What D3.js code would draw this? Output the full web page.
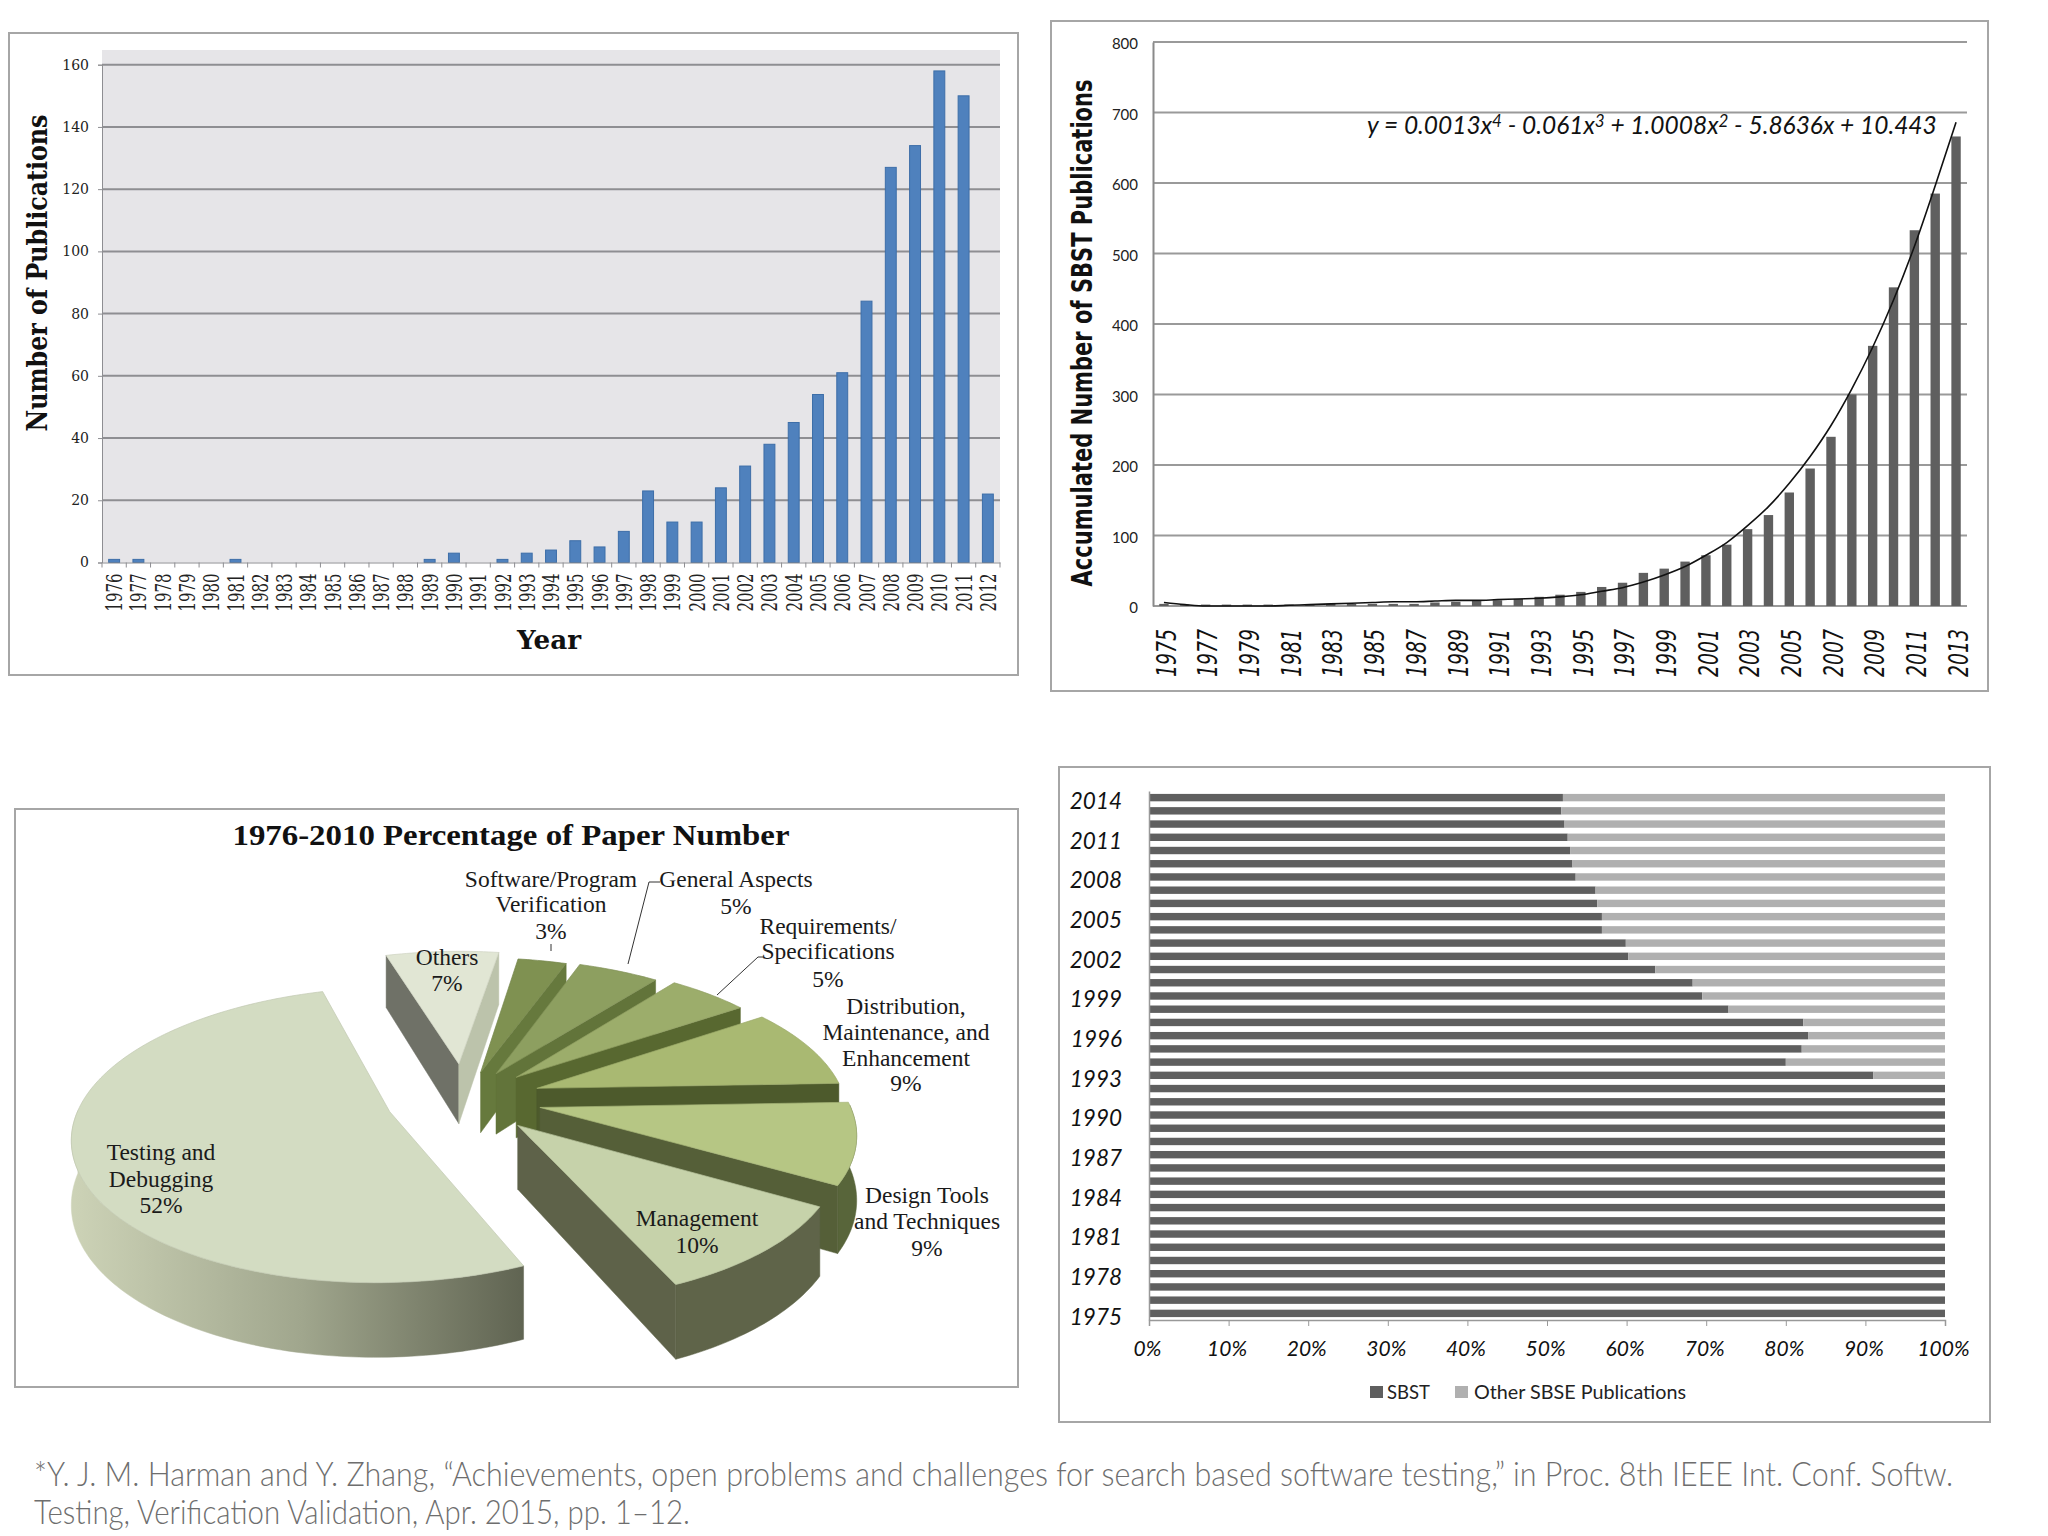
<!DOCTYPE html>
<html>
<head>
<meta charset="utf-8">
<script src="https://cdn.jsdelivr.net/npm/d3@7"></script>
<style>
  html, body { margin: 0; padding: 0; background: #fff; }
  svg { display: block; }
</style>
</head>
<body>
<div id="chart"></div>
<script>
// top left: publications per year
const pubYears = d3.range(1976, 2013).map(String);
const pubCounts = [1,1,0,0,0,1,0,0,0,0,0,0,0,1,3,0,1,3,4,7,5,10,23,13,13,24,31,38,45,54,61,84,127,134,158,150,22];
const pubTicks = [0,20,40,60,80,100,120,140,160];

// top right: accumulated SBST publications
const accYears = d3.range(1975, 2014).map(String);
const accCounts = [3,2,2,2,2,2,2,2,3,3,3,3,3,5,6,7,8,10,13,16,20,27,33,47,53,63,72,87,109,129,161,195,240,300,369,452,533,585,666];
const accTrend = [5,2,0,0,0,0,1,2,3,4,5,6,6,7,8,8,9,10,11,13,16,21,26,34,44,56,72,90,114,141,174,212,256,308,367,434,510,596,686];
const accTicks = [0,100,200,300,400,500,600,700,800];

// bottom left: paper share by topic, clockwise from Others
const pieValues = [7,3,5,5,9,9,10,52];

// bottom right: SBST share, 1975 first
const shareYears = d3.range(1975, 2015).map(String);
const shareSbst = [100,100,100,100,100,100,100,100,100,100,100,100,100,100,100,100,100,100,91,80,82,82.8,82.2,72.8,69.5,68.3,63.6,60.2,59.9,56.9,56.9,56.3,56.1,53.6,53.2,52.9,52.6,52.2,51.8,52];
const shareOther = [0,0,0,0,0,0,0,0,0,0,0,0,0,0,0,0,0,0,9,20,18,17.2,17.8,27.2,30.5,31.7,36.4,39.8,40.1,43.1,43.1,43.7,43.9,46.4,46.8,47.1,47.4,47.8,48.2,48];
const shareTicks = [0,10,20,30,40,50,60,70,80,90,100];

const footLines = [
  "*Y. J. M. Harman and Y. Zhang, \u201cAchievements, open problems and challenges for search based software testing,\u201d in Proc. 8th IEEE Int. Conf. Softw.",
  "Testing, Verification Validation, Apr. 2015, pp. 1\u201312."
];

const svg = d3.select("#chart").append("svg")
  .attr("width", 2048)
  .attr("height", 1536);

svg.append("rect").attr("width", 2048).attr("height", 1536).attr("fill", "#fff");

function frame(x, y, w, h) {
  svg.append("rect")
    .attr("x", x).attr("y", y).attr("width", w).attr("height", h)
    .attr("fill", "#fff")
    .attr("stroke", "#a6a6a6")
    .attr("stroke-width", 2);
}

frame(9, 33, 1009, 642);
frame(1051, 21, 937, 670);
frame(15, 809, 1003, 578);
frame(1059, 767, 931, 655);

// ---------- publications per year
{
  const left = 102, right = 1000, top = 64.7, bottom = 562.5;
  const g = svg.append("g");
  g.append("rect")
    .attr("x", left).attr("y", 50)
    .attr("width", right - left).attr("height", bottom - 50)
    .attr("fill", "#e6e5e8");

  const x = d3.scaleBand().domain(pubYears).range([left, right]).paddingInner(0.55).paddingOuter(0.275);
  const y = d3.scaleLinear().domain([0, 160]).range([bottom, top]);
  const step = x.step();

  g.selectAll("line.grid").data(pubTicks.slice(1)).enter().append("line")
    .attr("class", "grid")
    .attr("x1", left).attr("x2", right)
    .attr("y1", d => y(d)).attr("y2", d => y(d))
    .attr("stroke", "#8e8e92").attr("stroke-width", 2);

  g.selectAll("rect.bar").data(pubCounts).enter().append("rect")
    .attr("class", "bar")
    .attr("x", (d, i) => x(pubYears[i]))
    .attr("y", d => y(d))
    .attr("width", x.bandwidth())
    .attr("height", d => bottom - y(d))
    .attr("fill", "#4f81bd")
    .attr("stroke", "#3d6ea8")
    .attr("stroke-width", 1);

  const yAxis = g.append("g")
    .attr("transform", `translate(${left},0)`)
    .call(d3.axisLeft(y).tickValues(pubTicks).tickSize(4).tickPadding(9));
  yAxis.select(".domain").attr("stroke", "#8e8e92");
  yAxis.selectAll("line").attr("stroke", "#8e8e92");
  yAxis.selectAll("text")
    .attr("font-family", "DejaVu Serif").attr("font-size", 14).attr("fill", "#222");

  const xAxis = g.append("g")
    .attr("transform", `translate(0,${bottom})`)
    .call(d3.axisBottom(x).tickSize(0));
  xAxis.select(".domain").attr("stroke", "#8e8e92");
  xAxis.selectAll("text")
    .attr("font-family", "DejaVu Serif").attr("font-size", 23).attr("fill", "#222")
    .attr("text-anchor", "end")
    .attr("textLength", 38).attr("lengthAdjust", "spacingAndGlyphs")
    .attr("dy", "0.35em").attr("x", 0).attr("y", 0)
    .attr("transform", "translate(0,11) rotate(-90)");

  g.selectAll("line.sep").data(d3.range(pubYears.length + 1)).enter().append("line")
    .attr("class", "sep")
    .attr("x1", i => left + i * step).attr("x2", i => left + i * step)
    .attr("y1", bottom).attr("y2", bottom + 5)
    .attr("stroke", "#8e8e92");

  g.append("text")
    .attr("transform", "translate(47,273) rotate(-90)")
    .attr("text-anchor", "middle")
    .attr("font-family", "DejaVu Serif").attr("font-weight", 700).attr("font-size", 27)
    .attr("textLength", 317).attr("lengthAdjust", "spacingAndGlyphs")
    .attr("fill", "#111")
    .text("Number of Publications");

  g.append("text")
    .attr("x", 549).attr("y", 649)
    .attr("text-anchor", "middle")
    .attr("font-family", "DejaVu Serif").attr("font-weight", 700).attr("font-size", 26)
    .attr("textLength", 64).attr("lengthAdjust", "spacingAndGlyphs")
    .attr("fill", "#111")
    .text("Year");
}

// ---------- accumulated publications
{
  const left = 1153, right = 1967, top = 42, bottom = 606;
  const g = svg.append("g");
  const x = d3.scaleBand().domain(accYears).range([left, right]).paddingInner(0.55).paddingOuter(0.3);
  const y = d3.scaleLinear().domain([0, 800]).range([bottom, top]);

  g.selectAll("line.grid").data(accTicks).enter().append("line")
    .attr("class", "grid")
    .attr("x1", left).attr("x2", right)
    .attr("y1", d => y(d)).attr("y2", d => y(d))
    .attr("stroke", "#9a9a9a").attr("stroke-width", 2);

  g.selectAll("rect.bar").data(accCounts).enter().append("rect")
    .attr("class", "bar")
    .attr("x", (d, i) => x(accYears[i]))
    .attr("y", d => y(d))
    .attr("width", x.bandwidth())
    .attr("height", d => bottom - y(d))
    .attr("fill", "#5f5f5f");

  const trend = d3.line()
    .x((d, i) => x(accYears[i]) + x.bandwidth() / 2)
    .y(d => y(d))
    .curve(d3.curveMonotoneX);
  g.append("path").datum(accTrend)
    .attr("d", trend)
    .attr("fill", "none").attr("stroke", "#111").attr("stroke-width", 1.6);

  const yAxis = g.append("g")
    .attr("transform", `translate(${left},0)`)
    .call(d3.axisLeft(y).tickValues(accTicks).tickSize(0).tickPadding(15));
  yAxis.select(".domain").attr("stroke", "#8a8a8a").attr("stroke-width", 2);
  yAxis.selectAll("text")
    .attr("font-family", "Lato").attr("font-size", 15).attr("fill", "#222")
    .attr("dy", "0.45em");

  const xAxis = g.append("g")
    .attr("transform", `translate(0,${bottom})`)
    .call(d3.axisBottom(x).tickValues(accYears.filter((d, i) => i % 2 === 0)).tickSize(0));
  xAxis.select(".domain").remove();
  xAxis.selectAll("text")
    .attr("font-family", "DejaVu Sans").attr("font-style", "italic").attr("font-size", 27).attr("fill", "#111")
    .attr("text-anchor", "end")
    .attr("textLength", 48).attr("lengthAdjust", "spacingAndGlyphs")
    .attr("dy", "0.36em").attr("x", 0).attr("y", 0)
    .attr("transform", "translate(2,23) rotate(-90)");

  g.append("text")
    .attr("transform", "translate(1092,333) rotate(-90)")
    .attr("text-anchor", "middle")
    .attr("font-family", "DejaVu Sans").attr("font-weight", 700).attr("font-size", 28)
    .attr("textLength", 507).attr("lengthAdjust", "spacingAndGlyphs")
    .attr("fill", "#111")
    .text("Accumulated Number of SBST Publications");

  const eq = g.append("text")
    .attr("x", 1367).attr("y", 134)
    .attr("font-family", "Lato").attr("font-style", "italic").attr("font-size", 24.5)
    .attr("fill", "#111");
  const eqParts = [["y = 0.0013x",0],["4",1],[" - 0.061x",0],["3",1],[" + 1.0008x",0],["2",1],[" - 5.8636x + 10.443",0]];
  eqParts.forEach(p => {
    eq.append("tspan")
      .attr("font-size", p[1] ? 17 : 24.5)
      .attr("baseline-shift", p[1] ? "40%" : null)
      .text(p[0]);
  });
}

// ---------- exploded 3D pie
{
  const cx = 466, cy = 1099, R = 308, squash = 0.455, persp = 0.155, depth = 62;
  const g = svg.append("g");

  g.append("text")
    .attr("x", 511).attr("y", 845)
    .attr("text-anchor", "middle")
    .attr("font-family", "Liberation Serif").attr("font-weight", 700).attr("font-size", 29)
    .attr("textLength", 557).attr("lengthAdjust", "spacingAndGlyphs")
    .attr("fill", "#111")
    .text("1976-2010 Percentage of Paper Number");

  const grad = svg.append("defs").append("linearGradient")
    .attr("id", "testingWall")
    .attr("gradientUnits", "userSpaceOnUse")
    .attr("x1", 75).attr("x2", 530).attr("y1", 0).attr("y2", 0);
  grad.append("stop").attr("offset", 0).attr("stop-color", "#ccd2b6");
  grad.append("stop").attr("offset", 0.5).attr("stop-color", "#a0a68d");
  grad.append("stop").attr("offset", 1).attr("stop-color", "#5e6250");

  const explode = [0.26, 0.2, 0.21, 0.23, 0.245, 0.245, 0.245, 0.26];
  const nudgeX = [-2, 0, 0, 0, 0, 0, 0, 0];
  const faceColor = ["#e1e6d4","#7f9151","#8d9f60","#9cad6b","#a9b972","#b6c684","#c6d2aa","#d3dcc2"];
  const wallOuter = ["#777a6b","#66783c","#6d7f42","#6f7f45","#5b6a33","#58653a","#5f6449","url(#testingWall)"];
  const wallStart = ["#6f7167","#67783f","#67783f","#67783f","#5a6a33","#5a6a33","#5f6449","#8c917b"];
  const wallEnd = ["#bcc3ab","#66793d","#62743a","#586830","#4d5a2c","#555f38","#5e6249","#8c917b"];

  const pie = d3.pie().sort(null).value(d => d)
    .startAngle(-16.5 * Math.PI / 180)
    .endAngle(343.5 * Math.PI / 180);
  const arcs = pie(pieValues);

  function project(px, py, pz) {
    const s = 1 / (1 + py * persp);
    return [cx + px * R * s, cy - py * R * squash * s + pz * depth * s];
  }
  const line = d3.line();

  arcs.forEach((a, i) => {
    const mid = (a.startAngle + a.endAngle) / 2;
    const ox = Math.sin(mid) * explode[i] + nudgeX[i] / R;
    const oy = Math.cos(mid) * explode[i];
    const rim = (ang, z) => project(ox + Math.sin(ang), oy + Math.cos(ang), z);
    const apex = z => project(ox, oy, z);

    const n = Math.ceil((a.endAngle - a.startAngle) / 0.02);
    const angles = d3.range(n + 1).map(k => a.startAngle + (a.endAngle - a.startAngle) * k / n);

    // rim wall, near side only
    const near = angles.filter(t => Math.cos(t) < 0.02);
    if (near.length > 1) {
      const pts = near.map(t => rim(t, 0)).concat(near.slice().reverse().map(t => rim(t, 1)));
      g.append("path").attr("d", line(pts) + "Z")
        .attr("fill", wallOuter[i]).attr("stroke", wallOuter[i]).attr("stroke-width", 0.5);
    }
    // cut walls, only the ones turned towards the viewer
    if (Math.sin(a.startAngle) < 0) {
      const pts = [apex(0), rim(a.startAngle, 0), rim(a.startAngle, 1), apex(1)];
      g.append("path").attr("d", line(pts) + "Z")
        .attr("fill", wallStart[i]).attr("stroke", wallStart[i]).attr("stroke-width", 0.5);
    }
    if (Math.sin(a.endAngle) > 0) {
      const pts = [apex(0), rim(a.endAngle, 0), rim(a.endAngle, 1), apex(1)];
      g.append("path").attr("d", line(pts) + "Z")
        .attr("fill", wallEnd[i]).attr("stroke", wallEnd[i]).attr("stroke-width", 0.5);
    }
    const face = [apex(0)].concat(angles.map(t => rim(t, 0)));
    g.append("path").attr("d", line(face) + "Z")
      .attr("fill", faceColor[i]).attr("stroke", d3.color(faceColor[i]).darker(0.25)).attr("stroke-width", 0.7);
  });

  // leader lines
  const leaders = [
    [[551,944],[551,951]],
    [[628,964],[649,882],[660,882]],
    [[717,995],[758,957],[764,957]]
  ];
  leaders.forEach(l => {
    g.append("path").attr("d", line(l)).attr("fill", "none").attr("stroke", "#333").attr("stroke-width", 1);
  });

  // label text: [x, [line y...], lines]
  const labelLines = [
    [447, [965,991], ["Others","7%"]],
    [551, [887,912,939], ["Software/Program","Verification","3%"]],
    [736, [887,914], ["General Aspects","5%"]],
    [828, [934,959,987], ["Requirements/","Specifications","5%"]],
    [906, [1014,1040,1066,1091], ["Distribution,","Maintenance, and","Enhancement","9%"]],
    [927, [1203,1229,1256], ["Design Tools","and Techniques","9%"]],
    [697, [1226,1253], ["Management","10%"]],
    [161, [1160,1187,1213], ["Testing and","Debugging","52%"]]
  ];
  labelLines.forEach(l => {
    l[2].forEach((txt, k) => {
      g.append("text")
        .attr("x", l[0]).attr("y", l[1][k])
        .attr("text-anchor", "middle")
        .attr("font-family", "Liberation Serif").attr("font-size", 23.5)
        .attr("fill", "#1a1a1a")
        .text(txt);
    });
  });
}

// ---------- 100% stacked bars
{
  const left = 1149, right = 1945, top = 791, bottom = 1320;
  const g = svg.append("g");
  const x = d3.scaleLinear().domain([0, 100]).range([left, right]);
  const y = d3.scaleBand().domain(shareYears).range([bottom, top]).paddingInner(0.44).paddingOuter(0.22);

  g.selectAll("rect.sbst").data(shareSbst).enter().append("rect")
    .attr("class", "sbst")
    .attr("x", left)
    .attr("y", (d, i) => y(shareYears[i]))
    .attr("width", d => x(d) - left)
    .attr("height", y.bandwidth())
    .attr("fill", "#5f5f5f");

  g.selectAll("rect.other").data(shareOther).enter().append("rect")
    .attr("class", "other")
    .attr("x", (d, i) => x(shareSbst[i]))
    .attr("y", (d, i) => y(shareYears[i]))
    .attr("width", (d, i) => x(shareSbst[i] + d) - x(shareSbst[i]))
    .attr("height", y.bandwidth())
    .attr("fill", "#b0b0b0");

  const yAxis = g.append("g")
    .attr("transform", `translate(${left},0)`)
    .call(d3.axisLeft(y).tickValues(shareYears.filter((d, i) => i % 3 === 0)).tickSize(0).tickPadding(27));
  yAxis.select(".domain").attr("stroke", "#999").attr("stroke-width", 1.5);
  yAxis.selectAll("text")
    .attr("font-family", "Lato").attr("font-style", "italic").attr("font-size", 22.5).attr("fill", "#111")
    .attr("dy", "0.5em");

  const xAxis = g.append("g")
    .attr("transform", `translate(0,${bottom})`)
    .call(d3.axisBottom(x).tickValues(shareTicks).tickFormat(d => d + "%").tickSize(6).tickPadding(15));
  xAxis.select(".domain").attr("stroke", "#999").attr("stroke-width", 1.5);
  xAxis.selectAll("line").attr("stroke", "#999");
  xAxis.selectAll("text")
    .attr("font-family", "Lato").attr("font-style", "italic").attr("font-size", 21).attr("fill", "#111")
    .attr("dx", "-2");

  const legend = [["SBST", "#5f5f5f", 1370, 1387, 43], ["Other SBSE Publications", "#b0b0b0", 1455, 1474, 212]];
  legend.forEach(l => {
    g.append("rect").attr("x", l[2]).attr("y", 1386).attr("width", 13).attr("height", 12).attr("fill", l[1]);
    g.append("text").attr("x", l[3]).attr("y", 1399)
      .attr("font-family", "Lato").attr("font-size", 20).attr("fill", "#222")
      .attr("textLength", l[4]).attr("lengthAdjust", "spacingAndGlyphs")
      .text(l[0]);
  });
}

// ---------- citation
svg.selectAll("text.foot").data(footLines).enter().append("text")
  .attr("class", "foot")
  .attr("x", 34)
  .attr("y", (d, i) => 1486 + i * 38)
  .attr("font-family", "Lato").attr("font-weight", 300).attr("font-size", 33)
  .attr("fill", "#6e6e6e")
  .attr("textLength", (d, i) => i === 0 ? 1919 : 656)
  .attr("lengthAdjust", "spacingAndGlyphs")
  .text(d => d);
</script>
</body>
</html>
